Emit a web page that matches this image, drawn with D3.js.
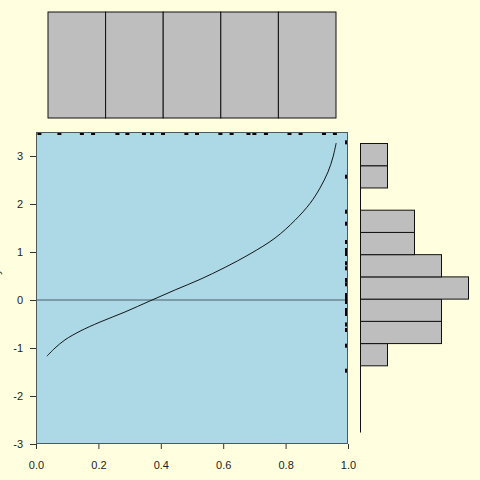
<!DOCTYPE html>
<html><head><meta charset="utf-8">
<script src="https://cdn.jsdelivr.net/npm/d3@7"></script>
<style>body{margin:0;background:#FFFFE0;}svg{display:block;}</style>
</head><body>
<svg id="c" width="480" height="480"></svg>
<script>
// rug data (x along top, y along right)
const xRug = [0.011,0.075,0.147,0.183,0.261,0.293,0.346,0.372,0.407,0.482,0.516,0.591,0.627,0.681,0.700,0.737,0.8125,0.848,0.923,0.958];
const yRug = [3.285,2.569,1.840,1.590,1.208,1.042,0.958,0.765,0.660,0.417,0.327,0.104,0.031,-0.042,-0.208,-0.292,-0.51,-0.625,-0.952,-1.473];
// fitted curve points
const curveX = [0.035,0.061,0.093,0.141,0.205,0.285,0.365,0.446,0.526,0.606,0.686,0.766,0.830,0.878,0.910,0.936,0.952,0.962];
const curveY = [-1.17,-1.0,-0.83,-0.65,-0.46,-0.25,-0.02,0.21,0.43,0.68,0.96,1.29,1.66,2.01,2.33,2.67,2.98,3.27];
// histogram breaks
const xBreaks = [0,0.2,0.4,0.6,0.8,1.0];
const yBreaks = [-3,-2.5,-2,-1.5,-1,-0.5,0,0.5,1,1.5,2,2.5,3,3.5];
const xTicks = [0,0.2,0.4,0.6,0.8,1.0];
const yTicks = [-3,-2,-1,0,1,2,3];

const svg = d3.select("#c");
const L=36,R=348,T=132,B=444;
const x = d3.scaleLinear().domain([0,1]).range([L,R]);
const y = d3.scaleLinear().domain([-3,3.5]).range([B,T]);

// main panel
svg.append("rect").attr("x",L).attr("y",T).attr("width",R-L).attr("height",B-T)
  .attr("fill","#ADD8E6");
svg.append("line").attr("x1",L).attr("x2",R).attr("y1",y(0)).attr("y2",y(0))
  .attr("stroke","#4a6068").attr("stroke-width",1);
const line = d3.line().x(d=>x(d[0])).y(d=>y(d[1])).curve(d3.curveCatmullRom.alpha(0.5));
svg.append("path").attr("d",line(curveX.map((v,i)=>[v,curveY[i]])))
  .attr("fill","none").attr("stroke","#000").attr("stroke-width",0.9);
// rugs
svg.append("g").selectAll("rect").data(xRug).join("rect")
  .attr("x",d=>x(d)-2).attr("y",T).attr("width",4).attr("height",3).attr("fill","#000");
svg.append("g").selectAll("rect").data(yRug).join("rect")
  .attr("x",R-3).attr("y",d=>y(d)-2).attr("width",3).attr("height",4).attr("fill","#000");
svg.append("rect").attr("x",L+0.5).attr("y",T+0.5).attr("width",R-L-1).attr("height",B-T-1)
  .attr("fill","none").attr("stroke","#4a5a60").attr("stroke-width",1);

// axes
const fam = "'Liberation Sans', Arial, Helvetica, sans-serif";
const gx = svg.append("g").attr("transform",`translate(0,${B})`)
  .call(d3.axisBottom(x).tickValues(xTicks).tickFormat(d3.format(".1f")).tickSizeOuter(0).tickSize(5).tickPadding(12));
const gy = svg.append("g").attr("transform",`translate(${L},0)`)
  .call(d3.axisLeft(y).tickValues(yTicks).tickFormat(d=>d).tickSizeOuter(0).tickSize(6).tickPadding(7));
[gx,gy].forEach(g=>{
  g.select(".domain").remove();
  g.selectAll("line").attr("stroke","#333");
  g.selectAll("text").attr("font-family",fam).attr("font-size",11).attr("fill","#222");
});
svg.append("text").attr("transform","translate(0,272) rotate(-90)").attr("text-anchor","middle")
  .attr("font-family",fam).attr("font-size",11).attr("fill","#222").text("y");

// top histogram
const xh = d3.scaleLinear().domain([0,1]).range([48,336]);
const xBins = d3.bin().domain([0,1]).thresholds(xBreaks.slice(1,-1))(xRug);
const ch = d3.scaleLinear().domain([0,d3.max(xBins,b=>b.length)]).range([118,12]);
svg.append("g").selectAll("rect").data(xBins).join("rect")
  .attr("x",d=>xh(d.x0)).attr("width",d=>xh(d.x1)-xh(d.x0))
  .attr("y",d=>ch(d.length)).attr("height",d=>ch(0)-ch(d.length))
  .attr("fill","#BEBEBE").attr("stroke","#111").attr("stroke-width",1);

// right histogram
const yh = d3.scaleLinear().domain([-3,3.5]).range([432.5,143.5]);
const yBins = d3.bin().domain([-3,3.5]).thresholds(yBreaks.slice(1,-1))(yRug);
const cw = d3.scaleLinear().domain([0,4]).range([360,468]);
svg.append("line").attr("x1",360.5).attr("x2",360.5).attr("y1",yh(3.5)).attr("y2",yh(-3))
  .attr("stroke","#111");
svg.append("g").selectAll("rect").data(yBins.filter(b=>b.length>0)).join("rect")
  .attr("x",cw(0)+0.5).attr("width",d=>cw(d.length)-cw(0))
  .attr("y",d=>yh(d.x1)).attr("height",d=>yh(d.x0)-yh(d.x1))
  .attr("fill","#BEBEBE").attr("stroke","#111").attr("stroke-width",1);
</script>
</body></html>
